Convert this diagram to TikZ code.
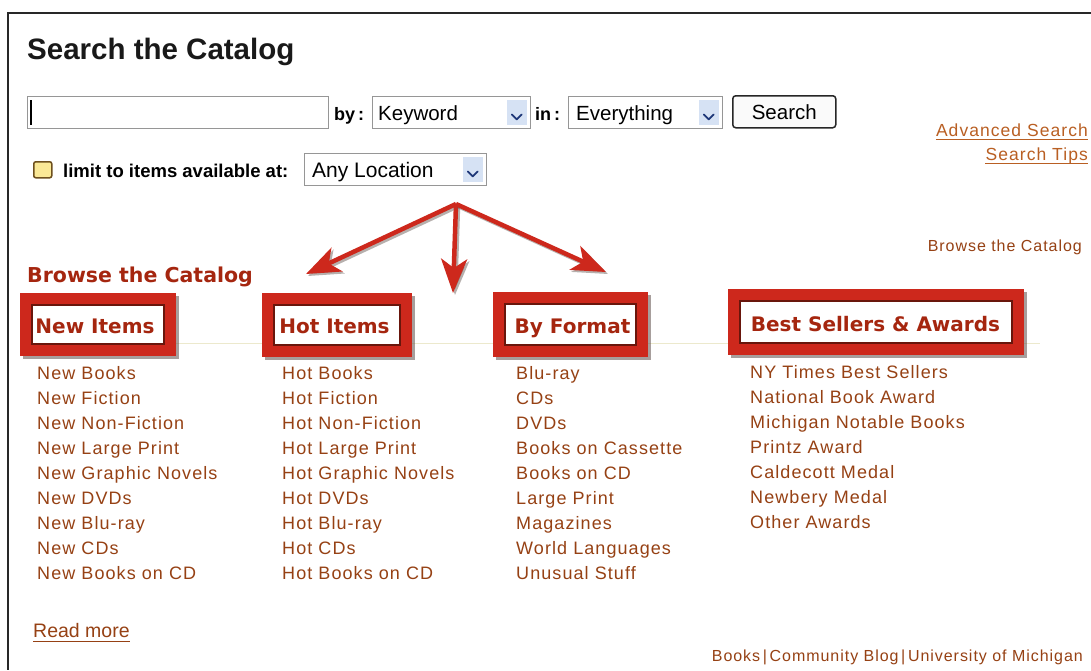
\documentclass[tikz,border=0pt]{standalone}
\usepackage{fontspec}
\setmainfont{Liberation Sans}
\newfontfamily\headfont{DejaVu Sans}
\newfontfamily\spacedfont[LetterSpace=6]{Liberation Sans}
\usetikzlibrary{arrows.meta}

\definecolor{framegray}{RGB}{40,40,40}
\definecolor{fieldgray}{RGB}{150,150,150}
\definecolor{linkbrown}{RGB}{150,65,20}
\definecolor{linkorange}{RGB}{185,95,35}
\definecolor{headred}{RGB}{165,38,15}
\definecolor{boxred}{RGB}{205,40,28}
\definecolor{boxdark}{RGB}{105,22,12}
\definecolor{shadowc}{RGB}{95,80,75}
\definecolor{chevbox}{RGB}{214,226,244}
\definecolor{chevline}{RGB}{165,185,215}
\definecolor{chevblue}{RGB}{30,55,120}
\definecolor{checkfill}{RGB}{250,232,150}
\definecolor{checkedge}{RGB}{110,80,30}
\definecolor{pageline}{RGB}{236,233,205}

\begin{document}
\begin{tikzpicture}[x=1pt,y=-1pt,
  txt/.style={inner sep=0pt, anchor=base west},
  field/.style={draw=fieldgray, line width=0.8pt, fill=white, inner sep=0pt},
  chevron/.style={draw=chevblue, line width=1.8pt, line cap=round, line join=round},
  listitem/.style={txt, text=linkbrown, font=\spacedfont\fontsize{18}{20}\selectfont},
  headlabel/.style={inner sep=0pt, anchor=base, text=headred, font=\headfont\bfseries\fontsize{20}{22}\selectfont},
  redframe/.style={draw=boxred, line width=12pt, inner sep=0pt, outer sep=0pt,
    preaction={draw=shadowc, line width=12pt, opacity=0.55,
      transform canvas={xshift=2.5pt, yshift=-2.5pt}}},
  innerline/.style={draw=boxdark, line width=1.4pt},
  redarrow/.style={draw=boxred, line width=4.5pt,
    -{Stealth[length=34pt, width=26pt, inset=9pt]},
    preaction={draw=shadowc, opacity=0.45, line width=4.5pt,
      -{Stealth[length=34pt, width=26pt, inset=9pt]},
      transform canvas={xshift=2pt, yshift=-2pt}}},
  ulink/.style={draw, line width=0.9pt}
]
\useasboundingbox (0,0) rectangle (1091,670);
\fill[white] (0,0) rectangle (1091,670);

% page frame
\draw[framegray, line width=2pt] (1091,13) -- (8,13) -- (8,670);

% title
\node[txt, font=\bfseries\fontsize{29.5}{32}\selectfont, text=black!90] (title) at (27,59) {Search the Catalog};

% search row
\node[field, minimum width=301pt, minimum height=32pt, anchor=north west] (query) at (27,96) {};
\draw[black, line width=2pt] ([xshift=4pt, yshift=-4pt]query.north west) -- ([xshift=4pt, yshift=4pt]query.south west);
\node[txt, font=\bfseries\fontsize{18}{20}\selectfont] (by) at (334,120) {by\,:};
\node[field, minimum width=158pt, minimum height=32pt, anchor=north west] (kw) at (372,96) {};
\node[txt, font=\fontsize{20.5}{22}\selectfont] (kwtext) at (378,120) {Keyword};
\node[txt, font=\bfseries\fontsize{18}{20}\selectfont] (in) at (535,120) {in\,:};
\node[field, minimum width=154pt, minimum height=32pt, anchor=north west] (scope) at (568,96) {};
\node[txt, font=\fontsize{20.5}{22}\selectfont] (scopetext) at (576,120) {Everything};
\node[draw=black!85, line width=1.5pt, rounded corners=3pt, fill=black!2,
      minimum width=103pt, minimum height=32pt, anchor=north west,
      font=\fontsize{20.5}{22}\selectfont] (go) at (732,95) {Search};

% location row
\node[draw=checkedge, fill=checkfill, line width=1.5pt, rounded corners=2pt,
      minimum width=18pt, minimum height=16pt, inner sep=0pt, anchor=north west] (chk) at (33,161) {};
\node[txt, font=\bfseries\fontsize{18.5}{20}\selectfont] (limit) at (63,177) {limit to items available at:};
\node[field, minimum width=182pt, minimum height=32pt, anchor=north west] (loc) at (304,153) {};
\node[txt, font=\fontsize{21}{23}\selectfont] (loctext) at (312,177) {Any Location};

% dropdown buttons
\foreach \d in {kw, scope, loc} {
  \fill[chevbox] ([xshift=-24pt, yshift=-4pt]\d.north east) rectangle ([xshift=-4pt, yshift=4pt]\d.south east);
  \draw[chevron] ([xshift=-19pt, yshift=-2pt]\d.east) -- ([xshift=-14pt, yshift=-7pt]\d.east) -- ([xshift=-9pt, yshift=-2pt]\d.east);
}

% links on the right
\node[txt, anchor=base east, text=linkorange, font=\spacedfont\fontsize{17.5}{19}\selectfont] (adv) at (1088,136) {Advanced Search};
\draw[ulink, linkorange] ([yshift=-3pt]adv.base west) -- ([yshift=-3pt]adv.base east);
\node[txt, anchor=base east, text=linkorange, font=\spacedfont\fontsize{17.5}{19}\selectfont] (tips) at (1088,160) {Search Tips};
\draw[ulink, linkorange] ([yshift=-3pt]tips.base west) -- ([yshift=-3pt]tips.base east);
\node[txt, anchor=base east, text=linkbrown, font=\spacedfont\fontsize{16}{18}\selectfont] (browsesmall) at (1082,251) {Browse the Catalog};

% arrows fanning out to the categories
\coordinate (apex) at (456,204);
\coordinate (tipL) at (306,274);
\coordinate (tipM) at (453,293);
\coordinate (tipR) at (606,272);
\draw[redarrow] (apex) -- (tipL);
\draw[redarrow] (apex) -- (tipM);
\draw[redarrow] (apex) -- (tipR);

% browse heading
\node[txt, text=headred, font=\headfont\bfseries\fontsize{20.5}{22}\selectfont] (browse) at (27,282) {Browse the Catalog};

% faint page rule behind the headings
\draw[pageline, line width=1pt] (20,343) -- (1040,343);

% category frames (path runs along the middle of the red band)
\node[redframe, minimum width=144pt, minimum height=51pt] (b1) at (98,324.5) {};
\node[redframe, minimum width=138pt, minimum height=52pt] (b2) at (337,325) {};
\node[redframe, minimum width=143pt, minimum height=53pt] (b3) at (570.5,324.5) {};
\node[redframe, minimum width=284pt, minimum height=54pt] (b4) at (876,322) {};
\foreach \b in {b1,b2,b3,b4} {
  \fill[white] ([shift={(6,6)}]\b.north west) rectangle ([shift={(-6,-6)}]\b.south east);
  \draw[innerline] ([shift={(6,6)}]\b.north west) rectangle ([shift={(-6,-6)}]\b.south east);
}
\node[headlabel] (h1) at (95,333) {New Items};
\node[headlabel] (h2) at (334.5,333) {Hot Items};
\node[headlabel] (h3) at (572.5,333) {By Format};
\node[headlabel] (h4) at (875.5,331) {Best Sellers \& Awards};

% category lists
\foreach \t [count=\i from 0] in {New Books, New Fiction, New Non-Fiction, New Large Print,
    New Graphic Novels, New DVDs, New Blu-ray, New CDs, New Books on CD}
  \node[listitem] (n\i) at (37,379+25*\i) {\t};
\foreach \t [count=\i from 0] in {Hot Books, Hot Fiction, Hot Non-Fiction, Hot Large Print,
    Hot Graphic Novels, Hot DVDs, Hot Blu-ray, Hot CDs, Hot Books on CD}
  \node[listitem] (t\i) at (282,379+25*\i) {\t};
\foreach \t [count=\i from 0] in {Blu-ray, CDs, DVDs, Books on Cassette, Books on CD,
    Large Print, Magazines, World Languages, Unusual Stuff}
  \node[listitem] (f\i) at (516,379+25*\i) {\t};
\foreach \t [count=\i from 0] in {NY Times Best Sellers, National Book Award,
    Michigan Notable Books, Printz Award, Caldecott Medal, Newbery Medal, Other Awards}
  \node[listitem] (a\i) at (750,378+25*\i) {\t};

% footer
\node[txt, text=linkbrown, font=\fontsize{19.5}{21}\selectfont] (more) at (33,637) {Read more};
\draw[ulink, linkbrown] ([yshift=-4pt]more.base west) -- ([yshift=-4pt]more.base east);
\node[txt, anchor=base east, text=linkbrown, font=\spacedfont\fontsize{16}{18}\selectfont] (foot) at (1083,661)
  {Books\,|\,Community Blog\,|\,University of Michigan};
\end{tikzpicture}
\end{document}
